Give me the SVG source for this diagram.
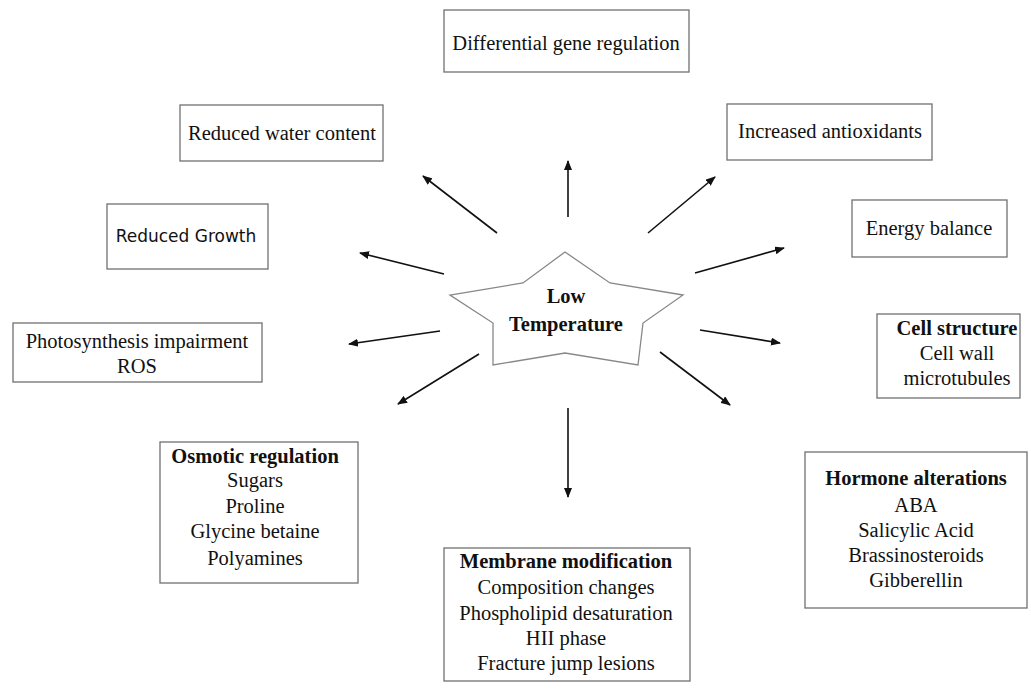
<svg xmlns="http://www.w3.org/2000/svg" width="1031" height="699" viewBox="0 0 1031 699">
<style>
.box{fill:#fff;stroke:#707070;stroke-width:1.3}
.t{font-family:"Liberation Serif","Times New Roman",serif;font-size:20.5px;fill:#111;text-anchor:middle}
.b{font-weight:bold}
.s{font-family:"DejaVu Sans","Open Sans",sans-serif;font-size:17px;fill:#111;text-anchor:middle}
.arr{stroke:#111;stroke-width:1.6;fill:none;marker-end:url(#ah)}
</style>
<defs>
<marker id="ah" markerWidth="10" markerHeight="8" refX="9" refY="4" orient="auto" markerUnits="userSpaceOnUse">
<path d="M0,0 L10,4 L0,8 Z" fill="#111"/>
</marker>
</defs>
<rect width="1031" height="699" fill="#fff"/>
<g id="connectors">
<line class="arr" x1="568" y1="217" x2="568" y2="161"/>
<line class="arr" x1="497" y1="233" x2="423" y2="176"/>
<line class="arr" x1="648" y1="233" x2="715" y2="177"/>
<line class="arr" x1="444" y1="274" x2="360" y2="253"/>
<line class="arr" x1="695" y1="273" x2="784" y2="248"/>
<line class="arr" x1="440" y1="331" x2="349" y2="344"/>
<line class="arr" x1="700" y1="330" x2="780" y2="343"/>
<line class="arr" x1="479" y1="354" x2="398" y2="404"/>
<line class="arr" x1="660" y1="352" x2="730" y2="405"/>
<line class="arr" x1="568" y1="408" x2="568" y2="497"/>
</g>
<g id="center">
<polygon points="565,252 610,283 683,295 643,323 638,365 565,353 493,365 493,323 450,295 523,283" fill="#fff" stroke="#888" stroke-width="1.3"/>
<text class="t b" x="566" y="303" font-size="24">Low</text>
<text class="t b" x="566" y="331" font-size="24">Temperature</text>
</g>
<g id="n-gene">
<rect class="box" x="444" y="10" width="245" height="62"/>
<text class="t" x="566" y="50">Differential gene regulation</text>
</g>
<g id="n-water">
<rect class="box" x="180" y="105" width="203" height="56"/>
<text class="t" x="282" y="140">Reduced water content</text>
</g>
<g id="n-antiox">
<rect class="box" x="727" y="104" width="205" height="56"/>
<text class="t" x="830" y="138">Increased antioxidants</text>
</g>
<g id="n-growth">
<rect class="box" x="107" y="204" width="161" height="65"/>
<text class="s" x="186" y="242">Reduced Growth</text>
</g>
<g id="n-energy">
<rect class="box" x="852" y="200" width="155" height="57"/>
<text class="t" x="929" y="235">Energy balance</text>
</g>
<g id="n-photo">
<rect class="box" x="13" y="323" width="249" height="59"/>
<text class="t" x="137" y="348">Photosynthesis impairment</text>
<text class="t" x="137" y="373">ROS</text>
</g>
<g id="n-cell">
<rect class="box" x="877" y="314" width="143" height="84"/>
<text class="t b" x="957" y="335">Cell structure</text>
<text class="t" x="957" y="360">Cell wall</text>
<text class="t" x="957" y="385">microtubules</text>
</g>
<g id="n-osmotic">
<rect class="box" x="160" y="442" width="198" height="141"/>
<text class="t b" x="255" y="463">Osmotic regulation</text>
<text class="t" x="255" y="487">Sugars</text>
<text class="t" x="255" y="513">Proline</text>
<text class="t" x="255" y="538">Glycine betaine</text>
<text class="t" x="255" y="565">Polyamines</text>
</g>
<g id="n-membrane">
<rect class="box" x="444" y="548" width="246" height="133"/>
<text class="t b" x="566" y="568">Membrane modification</text>
<text class="t" x="566" y="594">Composition changes</text>
<text class="t" x="566" y="620">Phospholipid desaturation</text>
<text class="t" x="566" y="645">HII phase</text>
<text class="t" x="566" y="670">Fracture jump lesions</text>
</g>
<g id="n-hormone">
<rect class="box" x="805" y="452" width="222" height="156"/>
<text class="t b" x="916" y="485">Hormone alterations</text>
<text class="t" x="916" y="512">ABA</text>
<text class="t" x="916" y="537">Salicylic Acid</text>
<text class="t" x="916" y="562">Brassinosteroids</text>
<text class="t" x="916" y="587">Gibberellin</text>
</g>
</svg>
